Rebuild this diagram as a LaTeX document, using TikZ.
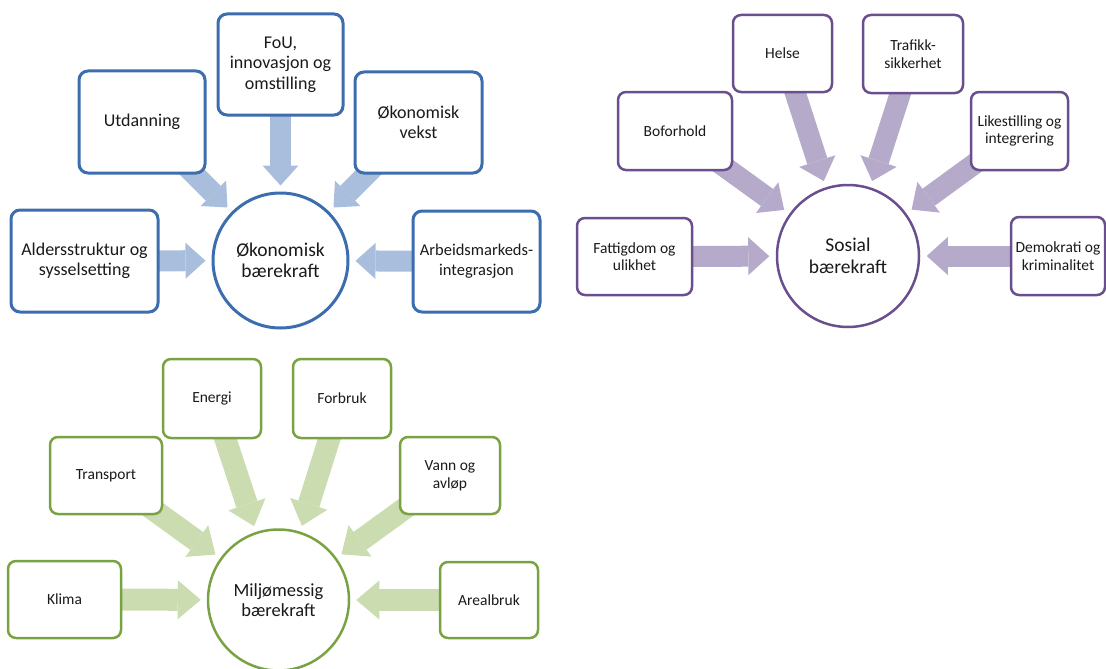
\documentclass[tikz,border=0pt]{standalone}
\usepackage{fontspec}
\setmainfont{Carlito}
\usetikzlibrary{arrows.meta}
\definecolor{bluB}{HTML}{3C6DAE}
\definecolor{bluA}{HTML}{A9BDDC}
\definecolor{purB}{HTML}{6A4F8E}
\definecolor{purA}{HTML}{B6AACB}
\definecolor{grnB}{HTML}{79A343}
\definecolor{grnA}{HTML}{CADCB0}
\definecolor{txt}{HTML}{1A1A1A}
\pgfdeclarelayer{bg}
\pgfsetlayers{bg,main}
\tikzset{
  boxA/.style={draw=bluB, line width=3pt, rounded corners=9pt, fill=white, align=center, text=txt, inner sep=2pt, font=\fontsize{18}{20.5}\selectfont},
  circA/.style={circle, draw=bluB, line width=3pt, fill=white, minimum size=135pt, inner sep=0pt, align=center, text=txt, font=\fontsize{19.5}{21.5}\selectfont},
  arrA/.style={draw=bluA, line width=21pt, -{Triangle[width=36pt,length=20pt,line width=0pt]}, shorten >=6pt},
  boxB/.style={draw=purB, line width=2.5pt, rounded corners=8pt, fill=white, align=center, text=txt, inner sep=2pt, font=\fontsize{15.5}{17.5}\selectfont},
  circB/.style={circle, draw=purB, line width=2.5pt, fill=white, minimum size=142pt, inner sep=0pt, align=center, text=txt, font=\fontsize{19.5}{22.5}\selectfont},
  arrB/.style={draw=purA, line width=21pt, -{Triangle[width=38pt,length=21pt,line width=0pt]}, shorten >=6.5pt},
  boxC/.style={draw=grnB, line width=2.5pt, rounded corners=8pt, fill=white, align=center, text=txt, inner sep=2pt, font=\fontsize{15.5}{18}\selectfont},
  circC/.style={circle, draw=grnB, line width=2.5pt, fill=white, minimum size=141pt, inner sep=0pt, align=center, text=txt, font=\fontsize{18.5}{20}\selectfont},
  arrC/.style={draw=grnA, line width=22pt, -{Triangle[width=39pt,length=23pt,line width=0pt]}, shorten >=6pt},
}
\begin{document}
\begin{tikzpicture}[x=1pt,y=-1pt]
\useasboundingbox (0,0) rectangle (1106,669);

% ---------- Diagram 1: Økonomisk bærekraft ----------
\node[boxA, minimum width=147pt, minimum height=102pt] (alders) at (84.5,261) {Aldersstruktur og\\sysselsetting};
\node[boxA, minimum width=126pt, minimum height=102pt] (utd) at (142,122) {Utdanning};
\node[boxA, minimum width=125pt, minimum height=101pt] (fou) at (280.5,64.5) {FoU,\\innovasjon og\\omstilling};
\node[boxA, minimum width=127pt, minimum height=101pt] (vekst) at (418.5,122.5) {Økonomisk\\vekst};
\node[boxA, minimum width=127pt, minimum height=101pt, font=\fontsize{16.5}{20}\selectfont] (arb) at (476.5,261.5) {Arbeidsmarkeds-\\integrasjon};
\node[circA] (c1) at (280.5,260.5) {Økonomisk\\bærekraft};

% ---------- Diagram 2: Sosial bærekraft ----------
\node[boxB, minimum width=115pt, minimum height=77pt] (fatt) at (634.5,256.5) {Fattigdom og\\ulikhet};
\node[boxB, minimum width=114pt, minimum height=78pt] (bofor) at (675,131) {Boforhold};
\node[boxB, minimum width=99pt, minimum height=77pt] (helse) at (782.5,53.5) {Helse};
\node[boxB, minimum width=100pt, minimum height=78pt] (traf) at (913,54) {Trafikk-\\sikkerhet};
\node[boxB, minimum width=97pt, minimum height=78pt] (like) at (1019.5,131) {Likestilling og\\integrering};
\node[boxB, minimum width=94pt, minimum height=78pt] (demo) at (1058,256) {Demokrati og\\kriminalitet};
\node[circB] (c2) at (848,256) {Sosial\\bærekraft};

% ---------- Diagram 3: Miljømessig bærekraft ----------
\node[boxC, minimum width=113pt, minimum height=77pt] (klima) at (64.5,599.5) {Klima};
\node[boxC, minimum width=112pt, minimum height=77pt] (transp) at (106,475.5) {Transport};
\node[boxC, minimum width=98pt, minimum height=79pt] (energi) at (212,398.5) {Energi};
\node[boxC, minimum width=98pt, minimum height=79pt] (forbruk) at (342,398.5) {Forbruk};
\node[boxC, minimum width=100pt, minimum height=77pt] (vann) at (450,475.5) {Vann og\\avløp};
\node[boxC, minimum width=98pt, minimum height=76pt] (areal) at (489,600) {Arealbruk};
\node[circC] (c3) at (278.5,600) {Miljømessig\\bærekraft};

% ---------- arrows (behind) ----------
\begin{pgfonlayer}{bg}
\foreach \b in {alders,utd,fou,vekst,arb}{\draw[arrA] (\b.center) -- (c1);}
\foreach \b in {fatt,bofor,helse,traf,like,demo}{\draw[arrB] (\b.center) -- (c2);}
\foreach \b in {klima,transp,energi,forbruk,vann,areal}{\draw[arrC] (\b.center) -- (c3);}
\end{pgfonlayer}
\end{tikzpicture}
\end{document}
